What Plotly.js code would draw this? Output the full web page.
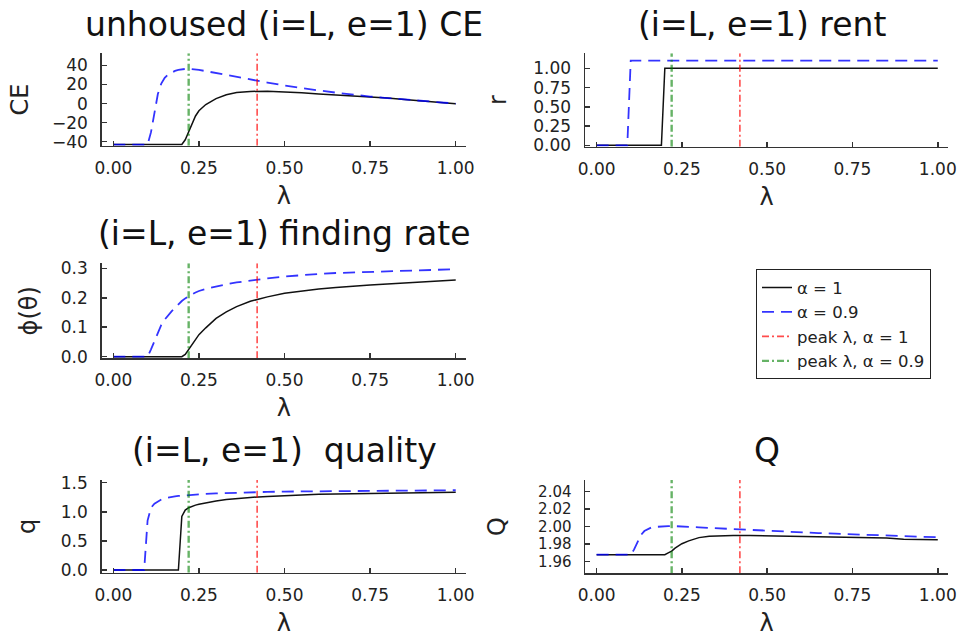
<!DOCTYPE html>
<html>
<head>
<meta charset="utf-8">
<script src="https://cdn.plot.ly/plotly-3.0.1.min.js"></script>
<style>html,body{margin:0;padding:0;background:#fff;}#chart{width:962px;height:637px;}</style>
</head>
<body>
<div id="chart"></div>
<script>
// ---- data ----
const lambda = [0, 0.05, 0.09, 0.10, 0.11, 0.12, 0.13, 0.14, 0.15, 0.16, 0.17, 0.18, 0.19, 0.20, 0.21, 0.22, 0.23, 0.24, 0.25, 0.27, 0.30, 0.33, 0.36, 0.40, 0.45, 0.50, 0.55, 0.60, 0.65, 0.70, 0.75, 0.80, 0.85, 0.90, 0.95, 1.00];

const ce_a1 = [-43, -43, -43, -43, -43, -43, -43, -43, -43, -43, -43, -43, -43, -43, -38, -29, -20, -13, -7.5, -1, 5.2, 9.3, 11.6, 12.8, 12.9, 12.3, 11.3, 10.2, 9.2, 8.3, 7.3, 5.8, 4.3, 2.9, 1.4, -0.2];
const ce_a09 = [-43, -43, -43, -43, -30, -10, 10, 21, 27, 30.5, 32.8, 34.3, 35.3, 36, 36.4, 36.5, 36.3, 35.9, 35.3, 34.1, 32, 30, 28.1, 25.3, 22, 19, 16.2, 13.8, 11.5, 9.3, 7.4, 5.8, 4.3, 2.9, 1.5, 0];

const rent_a1 = [0, 0, 0, 0, 0, 0, 0, 0, 0, 0, 0, 0, 0, 1, 1, 1, 1, 1, 1, 1, 1, 1, 1, 1, 1, 1, 1, 1, 1, 1, 1, 1, 1, 1, 1, 1];
const rent_a09 = [0, 0, 0, 1.1, 1.1, 1.1, 1.1, 1.1, 1.1, 1.1, 1.1, 1.1, 1.1, 1.1, 1.1, 1.1, 1.1, 1.1, 1.1, 1.1, 1.1, 1.1, 1.1, 1.1, 1.1, 1.1, 1.1, 1.1, 1.1, 1.1, 1.1, 1.1, 1.1, 1.1, 1.1, 1.1];

const find_a1 = [0, 0, 0, 0, 0, 0, 0, 0, 0, 0, 0, 0, 0, 0, 0.008, 0.025, 0.043, 0.06, 0.075, 0.098, 0.13, 0.152, 0.17, 0.188, 0.203, 0.215, 0.223, 0.23, 0.235, 0.24, 0.243, 0.247, 0.25, 0.254, 0.257, 0.26];
const find_a09 = [0, 0, 0, 0, 0.025, 0.055, 0.085, 0.108, 0.126, 0.141, 0.154, 0.166, 0.178, 0.189, 0.198, 0.206, 0.212, 0.218, 0.223, 0.23, 0.239, 0.246, 0.252, 0.259, 0.266, 0.272, 0.277, 0.281, 0.284, 0.286, 0.288, 0.29, 0.292, 0.294, 0.295, 0.297];

const qual_a1 = [0, 0, 0, 0, 0, 0, 0, 0, 0, 0, 0, 0, 0, 0.92, 1.03, 1.07, 1.095, 1.115, 1.13, 1.155, 1.185, 1.21, 1.228, 1.247, 1.263, 1.278, 1.29, 1.30, 1.307, 1.313, 1.318, 1.322, 1.326, 1.33, 1.333, 1.335];
const qual_a09 = [0, 0, 0, 0.85, 1.07, 1.14, 1.18, 1.21, 1.23, 1.245, 1.256, 1.265, 1.272, 1.278, 1.283, 1.288, 1.292, 1.296, 1.30, 1.306, 1.315, 1.322, 1.328, 1.336, 1.342, 1.347, 1.35, 1.353, 1.356, 1.358, 1.36, 1.362, 1.364, 1.366, 1.368, 1.37];

const Q_a1 = [1.968, 1.968, 1.968, 1.968, 1.968, 1.968, 1.968, 1.968, 1.968, 1.968, 1.968, 1.968, 1.968, 1.968, 1.970, 1.972, 1.9755, 1.978, 1.9805, 1.9838, 1.9875, 1.9892, 1.9897, 1.99, 1.99, 1.9897, 1.9893, 1.989, 1.9886, 1.9883, 1.988, 1.9877, 1.9872, 1.9855, 1.9852, 1.985];
const Q_a09 = [1.968, 1.968, 1.968, 1.968, 1.974, 1.983, 1.9905, 1.995, 1.9975, 1.999, 1.9997, 2.0001, 2.0004, 2.0006, 2.0007, 2.0008, 2.0007, 2.0005, 2.0003, 1.9999, 1.9993, 1.9986, 1.998, 1.9971, 1.996, 1.995, 1.9943, 1.9935, 1.9927, 1.992, 1.9913, 1.9905, 1.9897, 1.989, 1.9885, 1.9879];

const peak_a1 = 0.42;
const peak_a09 = 0.22;

const seriesNames = ["α = 1", "α = 0.9", "peak λ, α = 1", "peak λ, α = 0.9"];
const panelTitles = ["unhoused (i=L, e=1) CE", "(i=L, e=1) rent", "(i=L, e=1) finding rate", "(i=L, e=1)  quality", "Q"];
const yLabels = ["CE", "r", "ϕ(θ)", "q", "Q"];
const xLabel = "λ";

const xTickVals = [0, 0.25, 0.5, 0.75, 1.0];
const xTickText = ["0.00", "0.25", "0.50", "0.75", "1.00"];
const yTickVals = [
  [-40, -20, 0, 20, 40],
  [0, 0.25, 0.5, 0.75, 1.0],
  [0, 0.1, 0.2, 0.3],
  [0, 0.5, 1.0, 1.5],
  [1.96, 1.98, 2.00, 2.02, 2.04]
];
const yTickText = [
  ["−40", "−20", "0", "20", "40"],
  ["0.00", "0.25", "0.50", "0.75", "1.00"],
  ["0.0", "0.1", "0.2", "0.3"],
  ["0.0", "0.5", "1.0", "1.5"],
  ["1.96", "1.98", "2.00", "2.02", "2.04"]
];

// ---- layout geometry ----
const W = 962, H = 637;
const xRange = [-0.034, 1.03];
const yRanges = [[-44.2, 52.8], [-0.018, 1.195], [-0.0054, 0.317], [-0.046, 1.546], [1.9467, 2.0534]];
// pixel boxes [left, right, top, bottom]
const boxes = [
  [101.7, 466, 53.3, 145.7],
  [585, 948, 53.3, 146.7],
  [101.7, 466, 263.3, 358.3],
  [101.7, 466, 480, 572.7],
  [585, 948, 480, 573.3]
];
const titleX = [284, 762, 284, 284, 766.5];
const titleY = [24, 24, 234, 450, 450];
const yTitleStandoff = [16, 20, 16, 18, 25];
const yTickSize = [17, 17, 17, 17, 15];

const blackLine = {color: "#111111", width: 1.5, dash: "solid"};
const blueLine = {color: "rgba(0,0,255,0.8)", width: 1.8, dash: "12px,7px"};
const redLine = {color: "rgba(255,0,0,0.7)", width: 1.6, dash: "7px,3px,2px,3px"};
const greenLine = {color: "rgba(0,128,0,0.6)", width: 2.4, dash: "7px,3px,2px,3px"};

const panels = [
  [ce_a1, ce_a09],
  [rent_a1, rent_a09],
  [find_a1, find_a09],
  [qual_a1, qual_a09],
  [Q_a1, Q_a09]
];

const traces = [];
const layout = {
  width: W, height: H, autosize: false,
  margin: {l: 0, r: 0, t: 0, b: 0},
  paper_bgcolor: "#ffffff", plot_bgcolor: "#ffffff",
  font: {family: "DejaVu Sans", color: "#222222"},
  showlegend: true,
  legend: {
    x: 756 / W, y: 1 - 269.3 / H, xanchor: "left", yanchor: "top",
    bordercolor: "#222222", borderwidth: 1, bgcolor: "#ffffff",
    font: {family: "DejaVu Sans", size: 16.5, color: "#222222"},
    itemwidth: 30, tracegroupgap: 0
  },
  annotations: []
};

panels.forEach((p, i) => {
  const n = i + 1;
  const xa = n === 1 ? "x" : "x" + n;
  const ya = n === 1 ? "y" : "y" + n;
  const yr = yRanges[i];
  const show = i === 0;
  traces.push({x: lambda, y: p[0], xaxis: xa, yaxis: ya, type: "scatter", mode: "lines", name: seriesNames[0], line: blackLine, showlegend: show, legendgroup: "a1"});
  traces.push({x: lambda, y: p[1], xaxis: xa, yaxis: ya, type: "scatter", mode: "lines", name: seriesNames[1], line: blueLine, showlegend: show, legendgroup: "a09"});
  traces.push({x: [peak_a1, peak_a1], y: [yr[0], yr[1]], xaxis: xa, yaxis: ya, type: "scatter", mode: "lines", name: seriesNames[2], line: redLine, showlegend: show, legendgroup: "p1"});
  traces.push({x: [peak_a09, peak_a09], y: [yr[0], yr[1]], xaxis: xa, yaxis: ya, type: "scatter", mode: "lines", name: seriesNames[3], line: greenLine, showlegend: show, legendgroup: "p09"});

  const b = boxes[i];
  const common = {
    showline: true, linecolor: "#333333", linewidth: 1.5,
    ticks: "inside", ticklen: 5, tickwidth: 1.5, tickcolor: "#333333",
    showgrid: false, zeroline: false, mirror: false
  };
  layout[n === 1 ? "xaxis" : "xaxis" + n] = Object.assign({}, common, {
    anchor: ya, domain: [b[0] / W, b[1] / W], range: xRange,
    tickmode: "array", tickvals: xTickVals, ticktext: xTickText,
    tickfont: {family: "DejaVu Sans", size: 17, color: "#222222"},
    ticklabelstandoff: 6,
    title: {text: xLabel, font: {family: "DejaVu Sans", size: 24, color: "#222222"}, standoff: 10}
  });
  layout[n === 1 ? "yaxis" : "yaxis" + n] = Object.assign({}, common, {
    anchor: xa, domain: [1 - b[3] / H, 1 - b[2] / H], range: yr,
    tickmode: "array", tickvals: yTickVals[i], ticktext: yTickText[i],
    tickfont: {family: "DejaVu Sans", size: yTickSize[i], color: "#222222"},
    ticklabelstandoff: 9,
    title: {text: yLabels[i], font: {family: "DejaVu Sans", size: 24, color: "#222222"}, standoff: yTitleStandoff[i]}
  });
  layout.annotations.push({
    text: panelTitles[i], xref: "paper", yref: "paper",
    x: titleX[i] / W, y: 1 - titleY[i] / H,
    xanchor: "center", yanchor: "middle", showarrow: false,
    font: {family: "DejaVu Sans", size: 33, color: "#111111"}
  });
});

Plotly.newPlot("chart", traces, layout, {displayModeBar: false, staticPlot: true});
</script>
</body>
</html>
